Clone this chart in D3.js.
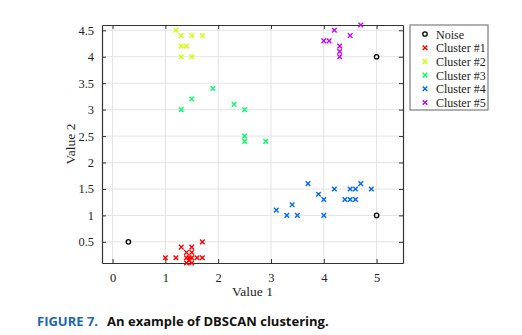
<!DOCTYPE html>
<html>
<head>
<meta charset="utf-8">
<script src="https://cdn.jsdelivr.net/npm/d3@7"></script>
<style>
  body { margin: 0; background: #fff; }
  text { font-family: "Liberation Serif", "Times New Roman", serif; }
</style>
</head>
<body>
<svg id="chart" width="522" height="335"></svg>
<script>
// Data
const noise = [[0.3, 0.5], [5, 4], [5, 1]];
const cluster1 = [[1.0, 0.2], [1.2, 0.2], [1.3, 0.4], [1.5, 0.4], [1.7, 0.5], [1.4, 0.3], [1.5, 0.3],
  [1.4, 0.2], [1.45, 0.2], [1.5, 0.2], [1.6, 0.2], [1.7, 0.2], [1.4, 0.1], [1.5, 0.1], [1.45, 0.15]];
const cluster2 = [[1.2, 4.5], [1.3, 4.4], [1.5, 4.4], [1.7, 4.4], [1.3, 4.2], [1.4, 4.2], [1.3, 4.0], [1.5, 4.0]];
const cluster3 = [[1.9, 3.4], [1.5, 3.2], [1.3, 3.0], [2.3, 3.1], [2.5, 3.0], [2.5, 2.5], [2.5, 2.4], [2.9, 2.4]];
const cluster4 = [[3.1, 1.1], [3.3, 1.0], [3.4, 1.2], [3.5, 1.0], [3.7, 1.6], [3.9, 1.4], [4.0, 1.3], [4.0, 1.0],
  [4.2, 1.5], [4.4, 1.3], [4.5, 1.3], [4.6, 1.3], [4.5, 1.5], [4.6, 1.5], [4.7, 1.6], [4.9, 1.5]];
const cluster5 = [[4.2, 4.5], [4.7, 4.6], [4.5, 4.4], [4.0, 4.3], [4.1, 4.3], [4.3, 4.2], [4.3, 4.1], [4.3, 4.0]];

const seriesNames = ["Noise", "Cluster #1", "Cluster #2", "Cluster #3", "Cluster #4", "Cluster #5"];
const seriesColors = ["#000000", "#ff0000", "#ccff00", "#00ff66", "#0066ff", "#cc00ff"];
const seriesData = [noise, cluster1, cluster2, cluster3, cluster4, cluster5];

const xTicks = [0, 1, 2, 3, 4, 5];
const yTicks = [0.5, 1, 1.5, 2, 2.5, 3, 3.5, 4, 4.5];

const margin = {top: 25, right: 119, bottom: 72, left: 102};
const width = 522 - margin.left - margin.right;
const height = 335 - margin.top - margin.bottom;

const svg = d3.select("#chart");
const g = svg.append("g").attr("transform", `translate(${margin.left},${margin.top})`);

const x = d3.scaleLinear().domain([-0.2, 5.5]).range([0, width]);
const y = d3.scaleLinear().domain([0.1, 4.6]).range([height, 0]);

// Grid
g.selectAll(".vgrid").data(xTicks).enter().append("line")
  .attr("x1", d => x(d)).attr("x2", d => x(d))
  .attr("y1", 0).attr("y2", height)
  .attr("stroke", "#e3e3e3").attr("stroke-width", 1);
g.selectAll(".hgrid").data(yTicks).enter().append("line")
  .attr("y1", d => y(d)).attr("y2", d => y(d))
  .attr("x1", 0).attr("x2", width)
  .attr("stroke", "#e3e3e3").attr("stroke-width", 1);

// Axes, ticks pointing inward on all four sides
function styleAxis(sel) {
  sel.select(".domain").attr("stroke", "#333").attr("stroke-width", 1.2);
  sel.selectAll(".tick line").attr("stroke", "#333");
  sel.selectAll("text").style("font-family", "Liberation Serif").attr("font-size", 12.5).attr("fill", "#222");
}
g.append("g").attr("transform", `translate(0,${height})`)
  .call(d3.axisBottom(x).tickValues(xTicks).tickSizeInner(-4).tickSizeOuter(0).tickPadding(10).tickFormat(d3.format("")))
  .call(styleAxis);
g.append("g")
  .call(d3.axisLeft(y).tickValues(yTicks).tickSizeInner(-4).tickSizeOuter(0).tickPadding(8).tickFormat(d3.format("")))
  .call(styleAxis);
g.append("g")
  .call(d3.axisTop(x).tickValues(xTicks).tickSizeInner(-4).tickSizeOuter(0).tickFormat(""))
  .call(styleAxis);
g.append("g").attr("transform", `translate(${width},0)`)
  .call(d3.axisRight(y).tickValues(yTicks).tickSizeInner(-4).tickSizeOuter(0).tickFormat(""))
  .call(styleAxis);

// Markers
function cross(sel, color) {
  sel.append("path")
    .attr("d", "M-2.3,-2.3L2.3,2.3M-2.3,2.3L2.3,-2.3")
    .attr("stroke", color).attr("stroke-width", 1.4).attr("fill", "none");
}
function ring(sel, color) {
  sel.append("circle").attr("r", 2.2)
    .attr("stroke", color).attr("stroke-width", 1.3).attr("fill", "none");
}

seriesData.forEach((pts, i) => {
  const pg = g.selectAll(null).data(pts).enter().append("g")
    .attr("transform", d => `translate(${x(d[0])},${y(d[1])})`);
  if (i === 0) ring(pg, seriesColors[i]); else cross(pg, seriesColors[i]);
});

// Axis labels
g.append("text")
  .attr("x", width / 2).attr("y", height + 33)
  .attr("text-anchor", "middle").attr("font-size", 13.5).attr("fill", "#222")
  .text("Value 1");
g.append("text")
  .attr("transform", `translate(-27,${height / 2}) rotate(-90)`)
  .attr("text-anchor", "middle").attr("font-size", 13.5).attr("fill", "#222")
  .text("Value 2");

// Legend
const lg = svg.append("g").attr("transform", "translate(410,25)");
lg.append("rect").attr("width", 78).attr("height", 85)
  .attr("fill", "#fff").attr("stroke", "#888").attr("stroke-width", 1.3);
seriesNames.forEach((name, i) => {
  const row = lg.append("g").attr("transform", `translate(15,${9 + i * 13.7})`);
  if (i === 0) ring(row, seriesColors[i]); else cross(row, seriesColors[i]);
  row.append("text").attr("x", 11).attr("y", 4.5)
    .attr("font-size", 12).attr("fill", "#222").text(name);
});

// Caption
const cap = svg.append("text").attr("x", 37).attr("y", 326)
  .style("font-family", "'Open Sans', sans-serif").attr("font-weight", "bold").attr("font-size", 13);
cap.append("tspan").attr("fill", "#1a66b0").text("FIGURE 7.");
cap.append("tspan").attr("fill", "#111").attr("dx", 9).text("An example of DBSCAN clustering.");
</script>
</body>
</html>
